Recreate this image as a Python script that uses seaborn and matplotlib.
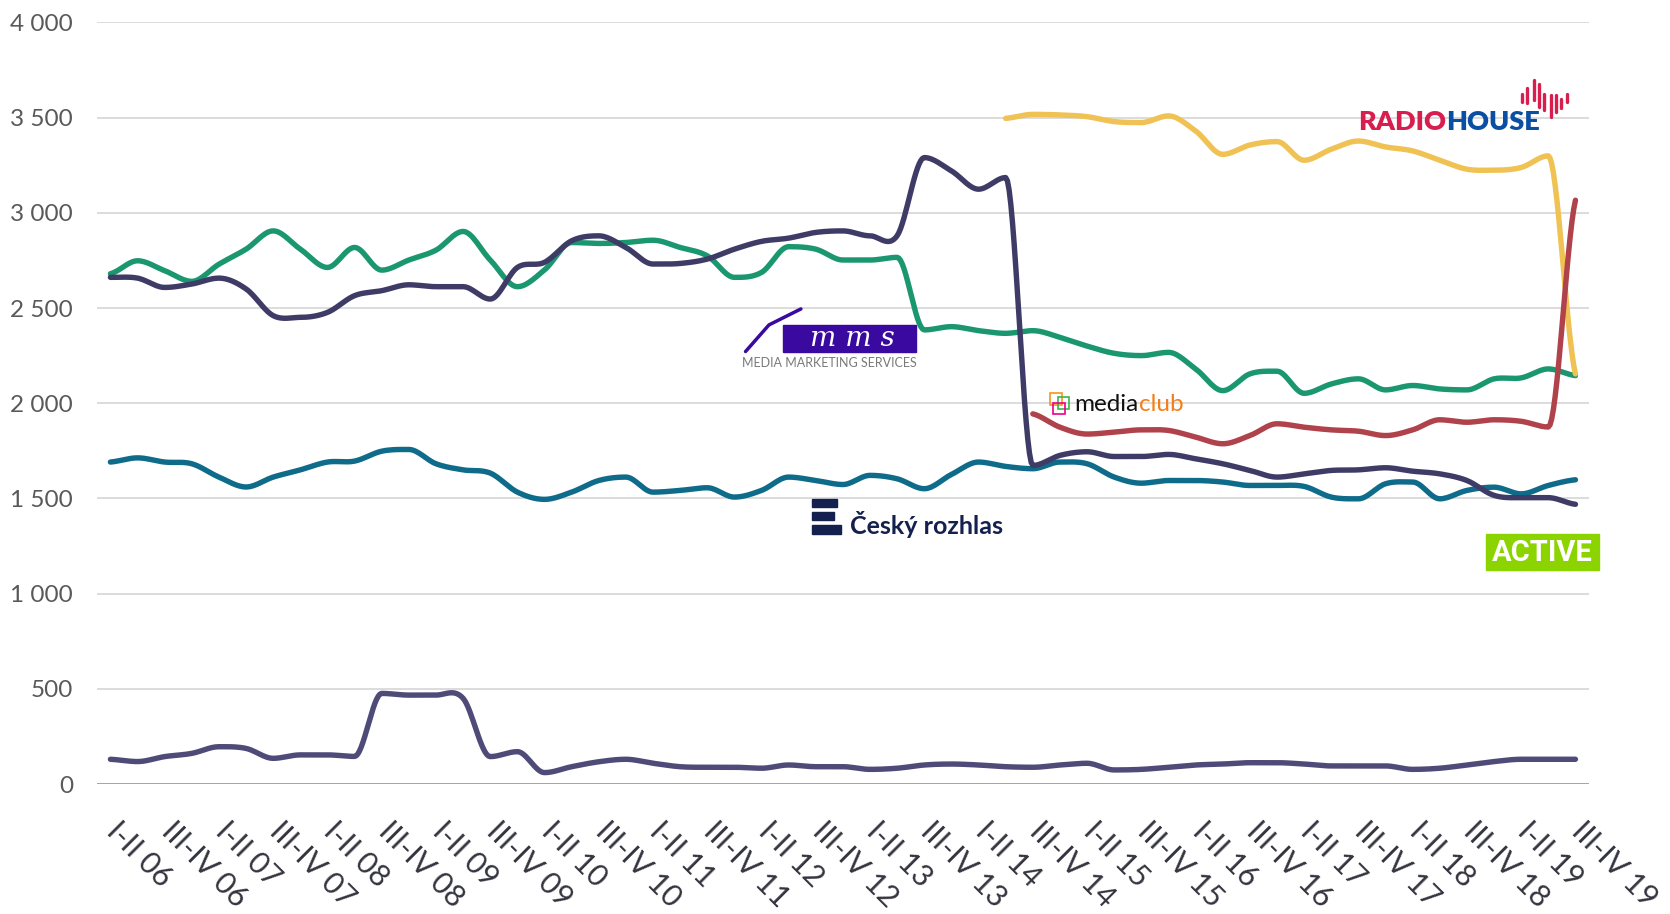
import numpy as np
import matplotlib
matplotlib.use("Agg")
import matplotlib.pyplot as plt
from matplotlib.patches import Rectangle
from matplotlib.lines import Line2D
from matplotlib.transforms import ScaledTranslation
import seaborn as sns

# rolling half-year periods, every second one is labelled on the axis
years = [f"{y:02d}" for y in range(6, 20)]
periods = []
for k, yy in enumerate(years):
    periods += [f"I-II {yy}", f"II-III {yy}", f"III-IV {yy}"]
    if k < len(years) - 1:
        periods.append(f"IV {yy}-I {years[k + 1]}")

nan = np.nan
green = [2680, 2748, 2696, 2640, 2730, 2809, 2905, 2809, 2713, 2818, 2699, 2752, 2804, 2902,
         2752, 2612, 2700, 2844, 2839, 2844, 2856, 2818, 2774, 2661, 2687, 2822, 2809, 2752,
         2752, 2766, 2385, 2402, 2381, 2367, 2381, 2346, 2300, 2262, 2250, 2267, 2180, 2066,
         2154, 2168, 2052, 2101, 2128, 2070, 2093, 2075, 2070, 2128, 2133, 2180, 2145]
navy = [2661, 2657, 2608, 2626, 2657, 2600, 2460, 2451, 2477, 2565, 2591, 2622, 2612, 2612,
        2547, 2713, 2740, 2853, 2879, 2818, 2731, 2734, 2757, 2809, 2850, 2867, 2897, 2905,
        2879, 2880, 3290, 3220, 3124, 3185, 1673, 1726, 1745, 1720, 1720, 1731, 1708, 1682,
        1647, 1612, 1629, 1647, 1650, 1661, 1643, 1629, 1594, 1516, 1504, 1504, 1469]
teal = [1691, 1713, 1691, 1682, 1612, 1560, 1612, 1650, 1691, 1696, 1748, 1757, 1682, 1650,
        1633, 1533, 1495, 1533, 1594, 1612, 1533, 1542, 1556, 1507, 1542, 1612, 1594, 1573,
        1621, 1603, 1551, 1626, 1691, 1668, 1656, 1691, 1682, 1612, 1580, 1594, 1594, 1586,
        1568, 1568, 1563, 1507, 1498, 1577, 1586, 1498, 1542, 1559, 1524, 1568, 1598]
low = [130, 118, 144, 161, 196, 187, 135, 153, 153, 145, 476, 467, 467, 450, 144, 170, 60,
       91, 117, 130, 109, 91, 88, 88, 83, 100, 91, 91, 77, 83, 100, 105, 100, 91, 88, 100,
       109, 74, 77, 88, 100, 105, 112, 112, 105, 95, 95, 95, 77, 83, 100, 118, 130, 130, 130]
yellow = [nan] * 33 + [3496, 3517, 3514, 3505, 3479, 3474, 3509, 3430, 3307, 3356, 3374,
                       3276, 3334, 3377, 3346, 3325, 3276, 3229, 3224, 3238, 3299, 2154]
red = [nan] * 34 + [1944, 1874, 1838, 1848, 1860, 1857, 1822, 1787, 1830, 1892, 1874, 1860,
                    1853, 1830, 1860, 1913, 1900, 1913, 1905, 1875, 3066]

series = [
    (low, "#4e4b78"),
    (teal, "#0f6b8a"),
    (green, "#1b9770"),
    (navy, "#3e3c66"),
    (yellow, "#f0c253"),
    (red, "#b0424b"),
]


def smooth(vals, n=16):
    # hermite spline, flat at local peaks so it doesn't overshoot
    v = np.asarray(vals, float)
    idx = np.where(~np.isnan(v))[0]
    y = v[idx]
    m = np.zeros(len(y))
    m[0] = (y[1] - y[0]) / 2
    m[-1] = (y[-1] - y[-2]) / 2
    for i in range(1, len(y) - 1):
        if (y[i] - y[i - 1]) * (y[i + 1] - y[i]) > 0:
            m[i] = (y[i + 1] - y[i - 1]) / 2
    t = np.linspace(0, 1, n, endpoint=False)
    h00 = 2 * t ** 3 - 3 * t ** 2 + 1
    h10 = t ** 3 - 2 * t ** 2 + t
    h01 = -2 * t ** 3 + 3 * t ** 2
    h11 = t ** 3 - t ** 2
    xs, ys = [], []
    for k in range(len(y) - 1):
        ys.append(h00 * y[k] + h10 * m[k] + h01 * y[k + 1] + h11 * m[k + 1])
        xs.append(idx[k] + t)
    xs.append([idx[-1]])
    ys.append([y[-1]])
    return np.concatenate(xs), np.concatenate(ys)


sns.set_theme(style="white")
plt.rcParams["font.family"] = ["Lato", "DejaVu Sans"]

fig = plt.figure(figsize=(16.7, 9.14), dpi=100)
ax = fig.add_axes([0.058, 0.1422, 0.8935, 0.8333])

for vals, col in series:
    xs, ys = smooth(vals)
    sns.lineplot(x=xs, y=ys, ax=ax, color=col, lw=3.9, sort=False, estimator=None,
                 solid_capstyle="round")

ax.set_xlim(-0.5, len(periods) - 0.5)
ax.set_ylim(0, 4000)
yt = np.arange(0, 4001, 500)
ax.set_yticks(yt)
ax.set_yticklabels([f"{v:,.0f}".replace(",", " ") for v in yt], fontsize=17.5, color="#595959")
ax.set_xticks(range(0, len(periods), 2))
ax.set_xticklabels([])
# category labels, rotated like excel does it
off = ax.get_xaxis_transform() + ScaledTranslation(-5 / 100, -49 / 100, fig.dpi_scale_trans)
for i in range(0, len(periods), 2):
    ax.text(i, 0, periods[i], transform=off, rotation=-45, rotation_mode="anchor",
            ha="left", va="baseline", fontsize=21.6, color="#34343f", clip_on=False)
ax.tick_params(axis="y", length=0, pad=17)
ax.tick_params(axis="x", length=0)
ax.yaxis.grid(True, color="#d9d9d9", lw=1.3)
ax.axhline(0, color="#a6a6a6", lw=1.4)
ax.set_axisbelow(True)
for s in ax.spines.values():
    s.set_visible(False)
ax.set_xlabel("")
ax.set_ylabel("")


def F(x, y):
    # reference pixel -> figure fraction
    return x / 1568, 1 - y / 858


def chain_text(x, y, parts, **kw):
    r = fig.canvas.get_renderer()
    for s, c in parts:
        t = fig.text(x, y, s, color=c, **kw)
        bb = t.get_window_extent(renderer=r)
        x = fig.transFigure.inverted().transform((bb.x1, bb.y0))[0]


# RADIOHOUSE
chain_text(*F(1275, 122), [("RADIO", "#d81e4f"), ("HOUSE", "#0b4fa3")],
           fontsize=19.5, fontweight="heavy", va="baseline")
bars = [(1429, 88, 96), (1434, 83, 97), (1440, 75, 94), (1445, 79, 100), (1450, 88, 103),
        (1456, 89, 110), (1461, 89, 105), (1466, 93, 101), (1471, 88, 96)]
for bx, b0, b1 in bars:
    fig.add_artist(Line2D([bx / 1568] * 2, [1 - b0 / 858, 1 - b1 / 858], color="#d81e4f",
                          lw=2.4, transform=fig.transFigure))

# mediaclub
for (x0, y0, c) in [(986, 369, "#f7941d"), (993, 373, "#3cb54a"), (989, 378, "#ec008c")]:
    fig.add_artist(Rectangle(F(x0, y0 + 11), 11 / 1568, 11 / 858, fill=False, ec=c, lw=1.2,
                             transform=fig.transFigure))
chain_text(*F(1009, 386), [("media", "#111111"), ("club", "#f57f17")],
           fontsize=17.5, va="baseline")

# Cesky rozhlas
for (x0, y0, x1, y1) in [(762, 468, 786, 476), (762, 481, 783, 488), (762, 493, 790, 501)]:
    fig.add_artist(Rectangle(F(x0, y1), (x1 - x0) / 1568, (y1 - y0) / 858, color="#14214f",
                             transform=fig.transFigure))
fig.text(*F(798, 501), "Český rozhlas", color="#14214f", fontsize=18, fontweight="bold",
         va="baseline")

# MMS
fig.add_artist(Rectangle(F(735, 330), 125 / 1568, 25 / 858, color="#3a0aa0",
                         transform=fig.transFigure))
fig.add_artist(Line2D([700 / 1568, 722 / 1568, 752 / 1568], [1 - 330 / 858, 1 - 305 / 858, 1 - 290 / 858],
                      color="#3a0aa0", lw=2.5, transform=fig.transFigure))
fig.text(*F(800, 318), "m m s", color="white", fontsize=20, fontstyle="italic",
         family="DejaVu Serif", ha="center", va="center")
fig.text(*F(779, 341), "MEDIA MARKETING SERVICES", color="#7a7a7a", fontsize=9,
         ha="center", va="center")

# ACTIVE
fig.add_artist(Rectangle(F(1395, 535), 106 / 1568, 34 / 858, color="#8cd400",
                         transform=fig.transFigure))
fig.text(*F(1448, 519), "ACTIVE", color="white", fontsize=21, fontweight="bold",
         family=["Liberation Sans Narrow", "Roboto"], ha="center", va="center")

fig.savefig("out.png", dpi=100)
